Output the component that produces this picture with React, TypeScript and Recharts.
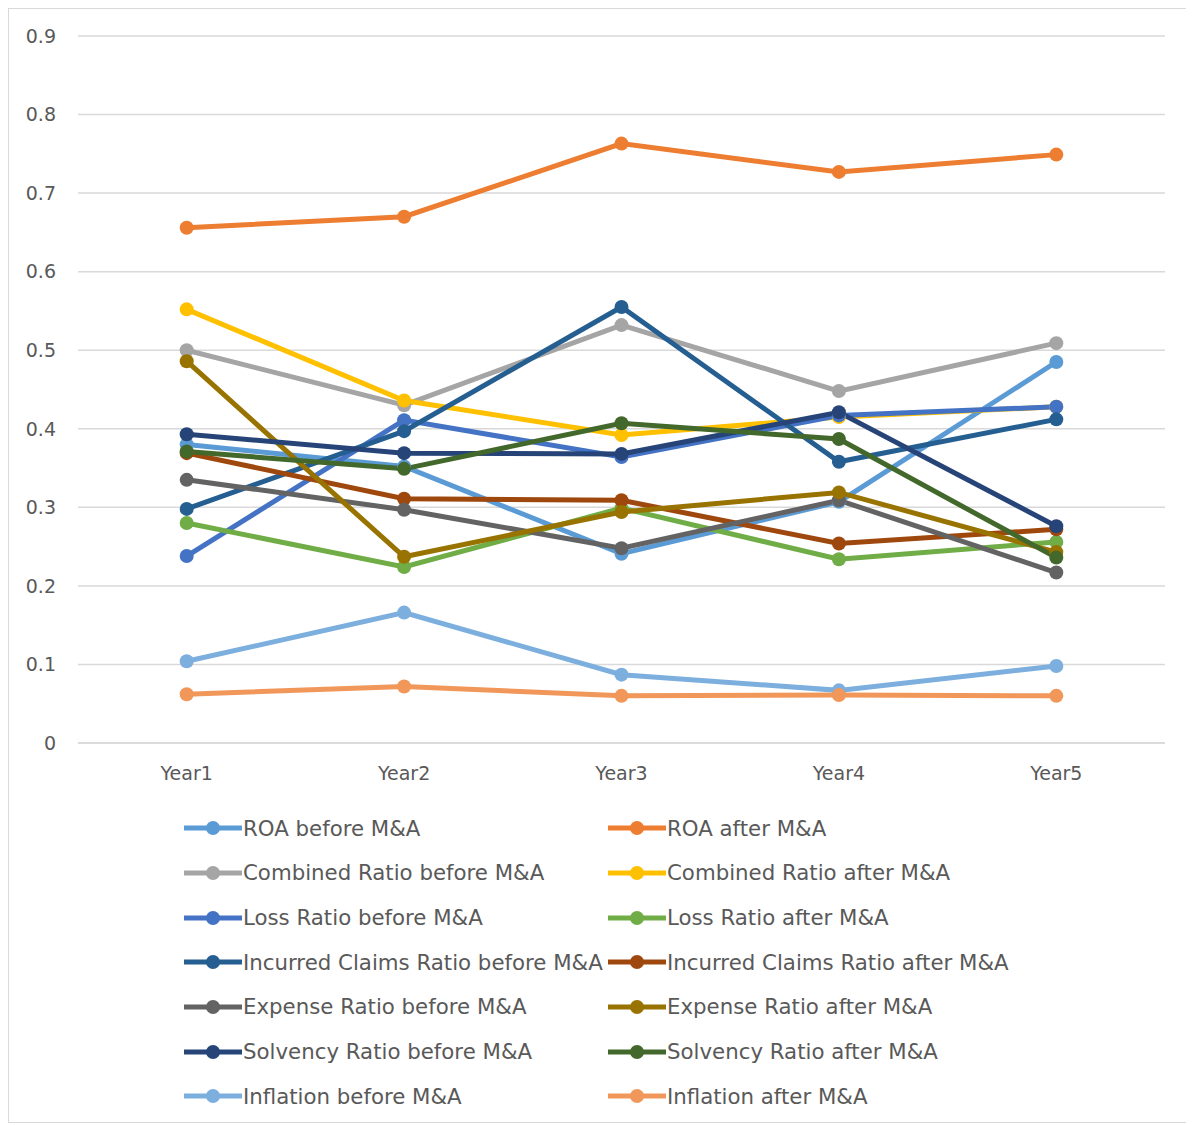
import React from 'react';
import { LineChart, Line, XAxis, YAxis, CartesianGrid, Legend } from 'recharts';

const years = ['Year1', 'Year2', 'Year3', 'Year4', 'Year5'];

const roaBefore = [0.380, 0.352, 0.241, 0.307, 0.485];
const roaAfter = [0.656, 0.670, 0.763, 0.727, 0.749];
const combinedBefore = [0.500, 0.430, 0.532, 0.448, 0.509];
const combinedAfter = [0.552, 0.436, 0.392, 0.415, 0.428];
const lossBefore = [0.238, 0.411, 0.364, 0.417, 0.428];
const lossAfter = [0.280, 0.224, 0.299, 0.234, 0.256];
const incurredBefore = [0.298, 0.397, 0.555, 0.358, 0.412];
const incurredAfter = [0.369, 0.311, 0.309, 0.254, 0.272];
const expenseBefore = [0.335, 0.297, 0.248, 0.309, 0.217];
const expenseAfter = [0.486, 0.237, 0.294, 0.319, 0.243];
const solvencyBefore = [0.393, 0.369, 0.368, 0.421, 0.276];
const solvencyAfter = [0.371, 0.349, 0.407, 0.387, 0.236];
const inflationBefore = [0.104, 0.166, 0.087, 0.067, 0.098];
const inflationAfter = [0.062, 0.072, 0.060, 0.061, 0.060];

const yTicks = [0, 0.1, 0.2, 0.3, 0.4, 0.5, 0.6, 0.7, 0.8, 0.9];

const series = [
  { key: 'roaBefore', name: 'ROA before M&A', values: roaBefore, color: '#5B9BD5' },
  { key: 'roaAfter', name: 'ROA after M&A', values: roaAfter, color: '#ED7D31' },
  { key: 'combinedBefore', name: 'Combined Ratio before M&A', values: combinedBefore, color: '#A5A5A5' },
  { key: 'combinedAfter', name: 'Combined Ratio after M&A', values: combinedAfter, color: '#FFC000' },
  { key: 'lossBefore', name: 'Loss Ratio before M&A', values: lossBefore, color: '#4472C4' },
  { key: 'lossAfter', name: 'Loss Ratio after M&A', values: lossAfter, color: '#70AD47' },
  { key: 'incurredBefore', name: 'Incurred Claims Ratio before M&A', values: incurredBefore, color: '#255E91' },
  { key: 'incurredAfter', name: 'Incurred Claims Ratio after M&A', values: incurredAfter, color: '#9E480E' },
  { key: 'expenseBefore', name: 'Expense Ratio before M&A', values: expenseBefore, color: '#636363' },
  { key: 'expenseAfter', name: 'Expense Ratio after M&A', values: expenseAfter, color: '#997300' },
  { key: 'solvencyBefore', name: 'Solvency Ratio before M&A', values: solvencyBefore, color: '#264478' },
  { key: 'solvencyAfter', name: 'Solvency Ratio after M&A', values: solvencyAfter, color: '#43682B' },
  { key: 'inflationBefore', name: 'Inflation before M&A', values: inflationBefore, color: '#7CAFDD' },
  { key: 'inflationAfter', name: 'Inflation after M&A', values: inflationAfter, color: '#F1975A' },
];

const data = years.map((year, i) => {
  const row: Record<string, string | number> = { year };
  series.forEach((s) => {
    row[s.key] = s.values[i];
  });
  return row;
});

const FONT = '"DejaVu Sans", Verdana, sans-serif';

const LegendBox = () => (
  <div
    style={{
      display: 'grid',
      gridTemplateColumns: '424px 424px',
      gridAutoRows: '44.7px',
      paddingLeft: 166,
      height: 316,
      fontFamily: FONT,
      fontSize: 21.3,
      lineHeight: 1,
      color: '#595959',
    }}
  >
    {series.map((s) => (
      <div key={s.key} style={{ display: 'flex', alignItems: 'center', whiteSpace: 'nowrap' }}>
        <svg width={58} height={16} style={{ marginRight: 1, display: 'block' }}>
          <line x1={0} y1={8} x2={58} y2={8} stroke={s.color} strokeWidth={5} />
          <circle cx={29} cy={8} r={7} fill={s.color} />
        </svg>
        <span>{s.name}</span>
      </div>
    ))}
  </div>
);

const App = () => {
  return (
    <div style={{ width: 1180, height: 1113, border: '1px solid #d9d9d9', background: '#fff' }}>
      <LineChart width={1180} height={1113} data={data} margin={{ top: 27, right: 24, left: 9, bottom: 0 }}>
        <CartesianGrid vertical={false} stroke="#d9d9d9" strokeWidth={1.5} />
        <XAxis
          dataKey="year"
          padding={{ left: 108.7, right: 108.7 }}
          height={63}
          tickLine={false}
          tickSize={0}
          tickMargin={24}
          axisLine={{ stroke: '#d9d9d9', strokeWidth: 1.5 }}
          tick={{ fill: '#595959', fontSize: 19, fontFamily: FONT }}
        />
        <YAxis
          domain={[0, 0.9]}
          ticks={yTicks}
          width={60}
          axisLine={false}
          tickLine={false}
          tickSize={0}
          tickMargin={22}
          tickFormatter={(v: number) => String(Number(v.toFixed(1)))}
          tick={{ fill: '#595959', fontSize: 19, fontFamily: FONT }}
        />
        <Legend verticalAlign="bottom" align="left" content={() => <LegendBox />} />
        {series.map((s) => (
          <Line
            key={s.key}
            type="linear"
            dataKey={s.key}
            name={s.name}
            stroke={s.color}
            strokeWidth={5}
            dot={{ r: 7, fill: s.color, stroke: s.color, strokeWidth: 0 }}
            activeDot={false}
            isAnimationActive={false}
          />
        ))}
      </LineChart>
    </div>
  );
};

export default App;
